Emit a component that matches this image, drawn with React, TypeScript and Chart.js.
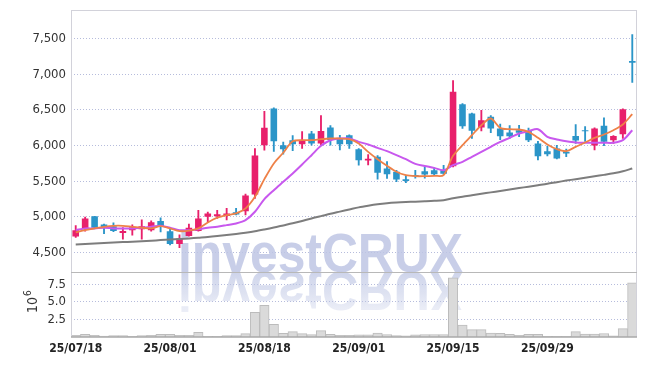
import React, { useEffect, useRef } from 'react';
import { Chart, registerables } from 'chart.js';
Chart.register(...registerables);

const dates = [
  '25/07/18', '25/07/21', '25/07/22', '25/07/23', '25/07/24', '25/07/25', '25/07/28', '25/07/29', '25/07/30', '25/07/31',
  '25/08/01', '25/08/04', '25/08/05', '25/08/06', '25/08/07', '25/08/08', '25/08/11', '25/08/12', '25/08/13', '25/08/14',
  '25/08/18', '25/08/19', '25/08/20', '25/08/21', '25/08/22', '25/08/25', '25/08/26', '25/08/27', '25/08/28', '25/08/29',
  '25/09/01', '25/09/02', '25/09/03', '25/09/04', '25/09/05', '25/09/08', '25/09/09', '25/09/10', '25/09/11', '25/09/12',
  '25/09/15', '25/09/16', '25/09/17', '25/09/18', '25/09/19', '25/09/22', '25/09/23', '25/09/24', '25/09/25', '25/09/26',
  '25/09/29', '25/09/30', '25/10/01', '25/10/02', '25/10/10', '25/10/13', '25/10/14', '25/10/15', '25/10/16', '25/10/17',
];

const open = [
  4725, 4830, 5010, 4895, 4870, 4775, 4815, 4830, 4815, 4945,
  4800, 4620, 4735, 4805, 5005, 5010, 5015, 5065, 5080, 5315,
  6005, 6520, 6005, 6075, 6020, 6170, 6030, 6255, 6100, 6145,
  5950, 5790, 5845, 5680, 5635, 5530, 5590, 5640, 5655, 5655,
  5710, 6580, 6450, 6255, 6405, 6240, 6185, 6215, 6205, 6030,
  5920, 5960, 5915, 6135, 6215, 6000, 6280, 6075, 6160, 7185,
];
const high = [
  4880, 5000, 5010, 4900, 4920, 4850, 4890, 4960, 4945, 4990,
  4830, 4750, 4900, 5095, 5070, 5095, 5120, 5120, 5320, 5960,
  6480, 6530, 6050, 6140, 6195, 6200, 6420, 6280, 6145, 6150,
  5960, 5875, 5860, 5775, 5655, 5580, 5655, 5705, 5690, 5725,
  6910, 6590, 6455, 6495, 6420, 6300, 6280, 6285, 6245, 6060,
  5995, 6005, 5950, 6295, 6265, 6250, 6390, 6140, 6515, 7555,
];
const low = [
  4715, 4800, 4840, 4765, 4795, 4690, 4745, 4690, 4800, 4790,
  4610, 4570, 4730, 4800, 4935, 4980, 4960, 5030, 5030, 5260,
  5935, 5920, 5880, 5930, 5960, 6005, 6010, 6005, 5940, 5960,
  5725, 5730, 5530, 5540, 5495, 5480, 5545, 5545, 5590, 5595,
  5700, 6240, 6100, 6205, 6180, 6085, 6100, 6125, 6055, 5800,
  5855, 5815, 5845, 6030, 6060, 5940, 6000, 6030, 6100, 6885,
];
const close = [
  4815, 4980, 4850, 4855, 4805, 4805, 4855, 4870, 4925, 4860,
  4620, 4700, 4850, 4980, 5050, 5040, 5050, 5035, 5300, 5860,
  6250, 6060, 5950, 6020, 6075, 6030, 6205, 6080, 6020, 6020,
  5795, 5815, 5620, 5600, 5525, 5505, 5570, 5595, 5600, 5605,
  6755, 6270, 6210, 6355, 6240, 6130, 6130, 6180, 6075, 5850,
  5880, 5820, 5890, 6070, 6200, 6240, 6055, 6135, 6510, 7160,
];
// volume in millions of shares (axis unit 10^6)
const volume = [
  0.25, 0.38, 0.25, 0.12, 0.2, 0.2, 0.1, 0.2, 0.25, 0.38,
  0.38, 0.25, 0.25, 0.67, 0.1, 0.1, 0.2, 0.2, 0.48, 3.5,
  4.5, 1.8, 0.52, 0.76, 0.48, 0.33, 0.9, 0.38, 0.24, 0.24,
  0.3, 0.3, 0.55, 0.35, 0.2, 0.15, 0.3, 0.35, 0.35, 0.35,
  8.4, 1.7, 1.05, 1.05, 0.55, 0.52, 0.38, 0.24, 0.38, 0.38,
  0.1, 0.1, 0.1, 0.76, 0.4, 0.4, 0.5, 0.15, 1.2, 7.7,
];
const maShort = [
  4784, 4816, 4840, 4863, 4877, 4877, 4863, 4850, 4840, 4872,
  4840, 4802, 4808, 4840, 4924, 4990, 5026, 5050, 5120, 5283,
  5530, 5750, 5900, 6060, 6076, 6076, 6090, 6100, 6100, 6090,
  6030, 5913, 5810, 5717, 5633, 5586, 5572, 5572, 5577, 5586,
  5857, 6006, 6146, 6286, 6380, 6249, 6230, 6226, 6193, 6109,
  6016, 5950, 5922, 5983, 6044, 6109, 6156, 6216, 6296, 6440,
];
const maMid = [
  4816, 4840, 4840, 4850, 4840, 4840, 4840, 4850, 4863, 4877,
  4850, 4816, 4816, 4830, 4850, 4863, 4886, 4910, 4956, 5073,
  5250, 5376, 5493, 5610, 5736, 5866, 5997, 6076, 6100, 6100,
  6053, 6016, 5969, 5922, 5866, 5810, 5745, 5715, 5688, 5655,
  5726, 5773, 5843, 5913, 5983, 6053, 6109, 6170, 6202, 6230,
  6124, 6086, 6062, 6044, 6040, 6040, 6040, 6040, 6076, 6216,
];
const maLong = [
  4615, 4622, 4630, 4636, 4642, 4648, 4654, 4660, 4668, 4676,
  4685, 4692, 4700, 4710, 4720, 4733, 4748, 4763, 4780, 4800,
  4825, 4852, 4882, 4912, 4945, 4980, 5012, 5045, 5075, 5105,
  5135, 5158, 5178, 5193, 5203, 5210, 5215, 5220, 5226, 5235,
  5262, 5285, 5305, 5325, 5345, 5365, 5385, 5405, 5425, 5445,
  5465, 5488, 5510, 5530, 5550, 5570, 5590, 5612, 5640, 5680,
];
const priceTicks = [4500, 5000, 5500, 6000, 6500, 7000, 7500];
const volumeTicks = [2.5, 5.0, 7.5];

const UP = '#E8206B';
const DOWN = '#2B95C8';
const GRID = 'rgb(182,188,220)';
const FONT = '"DejaVu Sans Condensed", "DejaVu Sans", sans-serif';

const watermark = {
  id: 'watermark',
  beforeDatasetsDraw(chart: any) {
    const { ctx } = chart;
    const baseY = chart.scales.y.bottom;
    ctx.save();
    ctx.font = 'bold 56px "Liberation Sans", Arial, sans-serif';
    ctx.textBaseline = 'alphabetic';
    ctx.textAlign = 'left';
    ctx.fillStyle = 'rgba(190,198,228,0.85)';
    ctx.fillText('investCRUX', 178, baseY, 285);
    ctx.translate(0, baseY * 2);
    ctx.scale(1, -1);
    const g = ctx.createLinearGradient(0, baseY, 0, baseY - 44);
    g.addColorStop(0, 'rgba(190,198,228,0.75)');
    g.addColorStop(1, 'rgba(190,198,228,0.25)');
    ctx.fillStyle = g;
    ctx.fillText('investCRUX', 178, baseY, 285);
    ctx.restore();
  },
};

const frame = {
  id: 'frame',
  afterDatasetsDraw(chart: any) {
    const { ctx, chartArea } = chart;
    const { left, right, top, bottom } = chartArea;
    const mid = chart.scales.y.bottom;
    ctx.save();
    ctx.lineWidth = 1;
    ctx.strokeStyle = '#d2d2da';
    ctx.beginPath();
    ctx.moveTo(Math.round(left) + 0.5, top);
    ctx.lineTo(Math.round(left) + 0.5, bottom);
    ctx.moveTo(Math.round(right) - 0.5, top);
    ctx.lineTo(Math.round(right) - 0.5, bottom);
    ctx.moveTo(left, Math.round(top) + 0.5);
    ctx.lineTo(right, Math.round(top) + 0.5);
    ctx.stroke();
    ctx.strokeStyle = '#b8b8b8';
    ctx.beginPath();
    ctx.moveTo(left, Math.round(mid) + 0.5);
    ctx.lineTo(right, Math.round(mid) + 0.5);
    ctx.stroke();
    ctx.strokeStyle = '#a8a8a8';
    ctx.lineWidth = 1.5;
    ctx.beginPath();
    ctx.moveTo(left, Math.round(bottom));
    ctx.lineTo(right, Math.round(bottom));
    ctx.stroke();
    // unit label of volume axis
    ctx.fillStyle = '#333';
    ctx.translate(37, 313);
    ctx.rotate(-Math.PI / 2);
    ctx.textBaseline = 'alphabetic';
    ctx.textAlign = 'left';
    ctx.font = '14px ' + FONT;
    ctx.fillText('10', 0, 0);
    ctx.font = '10px ' + FONT;
    ctx.fillText('6', 17, -6);
    ctx.restore();
  },
};

const fitY = (s: any) => {
  s.width = 71;
  s.paddingTop = 0;
  s.paddingBottom = 0;
};

export default function App() {
  const ref = useRef<HTMLCanvasElement>(null);
  useEffect(() => {
    const canvas = ref.current;
    if (!canvas) return;
    const colors = open.map((o, i) => (close[i] >= o ? UP : DOWN));
    const chart = new Chart(canvas, {
      type: 'bar',
      data: {
        labels: dates,
        datasets: [
          {
            type: 'line', label: 'MA5', data: maShort, yAxisID: 'y',
            borderColor: '#EE8148', borderWidth: 1.8, pointRadius: 0, tension: 0.3, order: 0,
          },
          {
            type: 'line', label: 'MA20', data: maMid, yAxisID: 'y',
            borderColor: '#C858EE', borderWidth: 2, pointRadius: 0, tension: 0.3, order: 1,
          },
          {
            type: 'line', label: 'MA60', data: maLong, yAxisID: 'y',
            borderColor: '#7d7d7d', borderWidth: 2, pointRadius: 0, tension: 0.3, order: 2,
          },
          {
            type: 'bar', label: 'body', data: open.map((o, i) => [o, close[i]]), yAxisID: 'y',
            backgroundColor: colors, grouped: false, barPercentage: 0.7, categoryPercentage: 1, order: 3,
          },
          {
            type: 'bar', label: 'wick', data: low.map((l, i) => [l, high[i]]), yAxisID: 'y',
            backgroundColor: colors, grouped: false, barThickness: 1.2, order: 4,
          },
          {
            type: 'bar', label: 'volume', data: volume, yAxisID: 'y2',
            backgroundColor: '#dadada', borderColor: '#bcbcbc', borderWidth: 1,
            grouped: false, barPercentage: 1, categoryPercentage: 1, order: 5,
          },
        ] as any,
      },
      options: {
        animation: false,
        responsive: false,
        layout: { padding: { top: 10, right: 8, left: 0, bottom: 0 } },
        plugins: { legend: { display: false }, tooltip: { enabled: false } },
        scales: {
          x: {
            type: 'category',
            offset: true,
            grid: {
              offset: false,
              drawTicks: false,
              color: (c: any) => (c.index % 10 === 0 && c.index > 0 ? GRID : 'rgba(0,0,0,0)'),
            },
            border: { display: false, dash: [1, 2] },
            ticks: {
              autoSkip: false,
              maxRotation: 0,
              padding: 5,
              color: '#222',
              font: { family: FONT, size: 12, weight: 'bold' },
              callback: (_v: any, i: number) => (i % 10 === 0 ? dates[i] : null),
            },
            afterFit: (s: any) => { s.height = 29; },
          },
          y2: {
            type: 'linear',
            position: 'left',
            stack: 'panes',
            stackWeight: 1,
            min: 0,
            max: 9.3,
            grid: { color: GRID, drawTicks: false },
            border: { display: false, dash: [1, 2] },
            afterBuildTicks: (s: any) => { s.ticks = volumeTicks.map((v) => ({ value: v })); },
            ticks: {
              autoSkip: false,
              padding: 5,
              color: '#333',
              font: { family: FONT, size: 13 },
              callback: (v: any) => Number(v).toFixed(1),
            },
            afterFit: fitY,
          },
          y: {
            type: 'linear',
            position: 'left',
            stack: 'panes',
            stackWeight: 4,
            min: 4235,
            max: 7900,
            grid: { color: GRID, drawTicks: false },
            border: { display: false, dash: [1, 2] },
            afterBuildTicks: (s: any) => { s.ticks = priceTicks.map((v) => ({ value: v })); },
            ticks: {
              autoSkip: false,
              padding: 5,
              color: '#333',
              font: { family: FONT, size: 13 },
              callback: (v: any) => Number(v).toLocaleString('en-US'),
            },
            afterFit: fitY,
          },
        },
      } as any,
      plugins: [watermark, frame],
    });
    return () => chart.destroy();
  }, []);

  return (
    <div style={{ position: 'fixed', left: 0, top: 0, width: 645, height: 366, background: '#fff' }}>
      <canvas ref={ref} width={645} height={366} style={{ display: 'block' }} />
    </div>
  );
}
